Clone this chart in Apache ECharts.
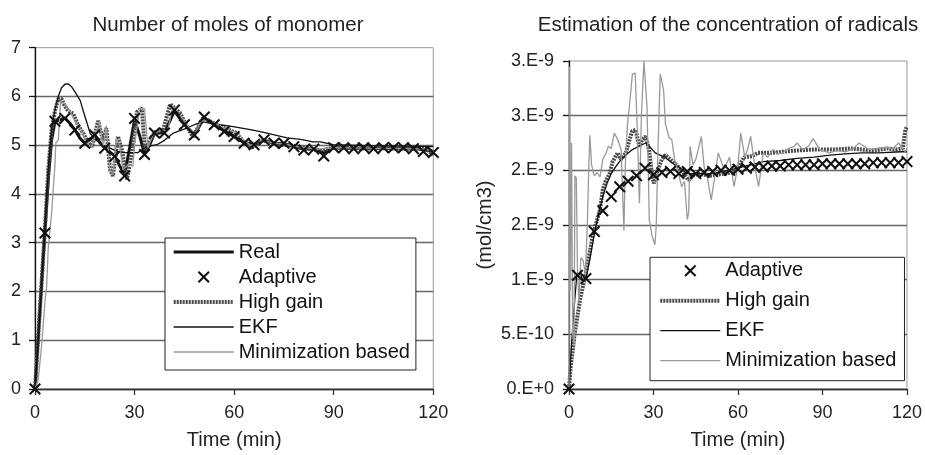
<!DOCTYPE html>
<html><head><meta charset="utf-8">
<script src="https://cdn.jsdelivr.net/npm/echarts@6/dist/echarts.min.js"></script>
<style>html,body{margin:0;padding:0;background:#fff}#c{width:925px;height:455px}</style>
</head><body><div id="c"></div>
<script>
// ---------- DATA ----------
const seriesNames = ['Real', 'Adaptive', 'High gain', 'EKF', 'Minimization based'];
const leftTitle = 'Number of moles of monomer';
const rightTitle = 'Estimation of the concentration of radicals';
const xName = 'Time (min)';
const rightYName = '(mol/cm3)';

const adaptiveTimes = [0,3,6,9,12,15,18,21,24,27,30,33,36,39,42,45,48,51,54,57,60,63,66,69,72,75,78,81,84,87,90,93,96,99,102,105,108,111,114,117,120];

// Left chart: number of moles of monomer
const leftAdaptive = [0,3.2,5.49,5.55,5.31,5.04,5.21,4.94,4.77,4.37,5.55,4.81,5.25,5.25,5.72,5.42,5.21,5.58,5.42,5.28,5.18,5.04,5.01,5.11,5.04,5.04,4.97,4.9,4.92,4.78,4.95,4.95,4.93,4.95,4.93,4.95,4.95,4.95,4.93,4.87,4.85];
const leftReal = [[0,0],[1,1.1],[2,2.2],[3,3.25],[4,4.3],[5,5.1],[6,5.48],[7.5,5.52],[9,5.56],[10.5,5.45],[12,5.32],[13.5,5.15],[15,5.04],[16.5,5.12],[18,5.2],[19.5,5.06],[21,4.95],[22.5,4.86],[24,4.78],[25.5,4.58],[27,4.4],[28.5,4.95],[30,5.52],[31.5,5.2],[33,4.82],[34.5,5.0],[36,5.24],[39,5.26],[42,5.7],[45,5.43],[48,5.22],[51,5.56],[54,5.42],[57,5.29],[60,5.18],[63,5.05],[66,5.02],[69,5.1],[72,5.04],[75,5.03],[78,4.97],[81,4.92],[84,4.92],[87,4.85],[90,4.95],[95,4.94],[100,4.94],[105,4.94],[110,4.93],[115,4.93],[120,4.87]];
const leftHighGain = [[0,0],[1,1.1],[2,2.2],[3,3.3],[4,4.5],[5,5.3],[6,5.7],[7,5.95],[8,5.95],[9,5.8],[10,5.7],[11.5,5.65],[13,5.4],[14.5,5.25],[16,5.05],[17.2,4.97],[18,5.2],[19,5.5],[20.5,5.1],[21.5,5.35],[22.6,4.5],[23.5,4.37],[25,5.18],[26.2,4.9],[27.7,4.3],[29.2,4.85],[30.7,5.68],[32.2,5.76],[33.1,4.9],[34.5,5.1],[36.2,5.27],[38.6,5.31],[40.7,5.84],[42.8,5.72],[43.7,5.66],[45.8,5.38],[47.6,5.17],[50.6,5.56],[53.6,5.46],[56.6,5.36],[60.8,5.25],[62.7,5.07],[65.4,4.95],[67.8,5.1],[70.8,5.07],[73.8,5.01],[76.8,5.0],[80.8,4.95],[83.8,4.91],[87,4.9],[90,4.95],[95,4.94],[100,4.93],[105,4.94],[110,4.93],[115,4.93],[118,4.92],[120,4.8]];
const leftEKF = [[0,0],[1,1.0],[2,2.1],[3,3.3],[4,4.5],[4.5,4.98],[5,5.35],[6,5.72],[7,6.0],[8,6.18],[9,6.25],[10,6.26],[11,6.2],[12,6.1],[13.6,5.92],[15,5.6],[16.6,5.25],[18,5.12],[19.6,5.05],[21,4.98],[22.6,4.94],[25,4.87],[27,4.85],[31,4.85],[33.7,4.97],[36.7,5.01],[39,5.1],[41.7,5.25],[43.7,5.3],[45.7,5.35],[48,5.42],[50.7,5.48],[53,5.45],[55.7,5.42],[59.7,5.38],[65.7,5.31],[69.9,5.25],[75.9,5.15],[80,5.12],[83.8,5.07],[86,5.07],[89.8,5.01],[95,5.0],[100,4.99],[110,4.98],[120,4.97]];
const leftMin = [[0,0],[1,0.2],[2,0.9],[3,1.8],[3.5,2.1],[4,2.9],[5,3.6],[6,4.6],[6.3,5.05],[7,5.1],[7.7,5.9],[9,5.85],[10.5,5.7],[12,5.5],[14,5.3],[15.5,5.05],[17,4.95],[18.5,5.3],[19.5,5.5],[20.5,4.95],[21.5,5.4],[22.5,4.5],[23.5,4.4],[24.5,5.15],[25.5,5.0],[26.5,4.5],[28,4.6],[28.6,4.57],[29.5,4.57],[30,5.0],[31.5,5.75],[33,5.75],[34,4.95],[35.5,5.2],[37.5,5.3],[40,5.3],[41.5,5.8],[43,5.7],[46,5.4],[48,5.2],[50,5.5],[53,5.5],[57,5.35],[61,5.25],[63,5.1],[65,5.0],[68,5.1],[72,5.05],[77,5.0],[81,4.95],[85,4.92],[90,4.95],[100,4.94],[110,4.93],[118,4.92],[120,4.9]];

// Right chart: concentration of radicals (mol/cm3)
const rightAdaptive = [0,1.04e-9,1.01e-9,1.44e-9,1.63e-9,1.76e-9,1.85e-9,1.9e-9,1.95e-9,2.02e-9,1.96e-9,1.98e-9,1.99e-9,1.97e-9,1.99e-9,1.97e-9,1.98e-9,1.99e-9,2.0e-9,2.0e-9,2.01e-9,2.02e-9,2.03e-9,2.03e-9,2.04e-9,2.04e-9,2.05e-9,2.05e-9,2.05e-9,2.05e-9,2.06e-9,2.06e-9,2.06e-9,2.06e-9,2.06e-9,2.06e-9,2.07e-9,2.07e-9,2.07e-9,2.07e-9,2.08e-9];
const rightHighGain = [[0,0],[0.5,0.18e-9],[2,0.5e-9],[4,0.83e-9],[5.5,1.0e-9],[6.7,1.16e-9],[8.4,1.4e-9],[10,1.55e-9],[11,1.64e-9],[12,1.82e-9],[13,1.9e-9],[14.4,1.97e-9],[15.5,2.08e-9],[17.3,2.16e-9],[18.4,2.1e-9],[20.2,2.16e-9],[21.5,2.28e-9],[22.5,2.36e-9],[23.7,2.37e-9],[24.9,2.22e-9],[26,2.28e-9],[27.2,2.31e-9],[28.4,2.19e-9],[29.3,2.0e-9],[30.1,1.88e-9],[31.9,2.03e-9],[33,2.1e-9],[34.2,2.14e-9],[36,2.1e-9],[38.9,2.03e-9],[40.5,1.98e-9],[42.4,1.91e-9],[44,1.95e-9],[45.9,1.97e-9],[50,1.95e-9],[55,1.97e-9],[58,1.98e-9],[60,2.03e-9],[62.2,2.12e-9],[65,2.13e-9],[67,2.16e-9],[72,2.16e-9],[80,2.18e-9],[87,2.19e-9],[94,2.19e-9],[100,2.2e-9],[108,2.18e-9],[113,2.2e-9],[116,2.19e-9],[118.5,2.2e-9],[119.4,2.37e-9],[120,2.4e-9]];
const rightEKF = [[0,0],[1,0.45e-9],[2,0.8e-9],[2.7,1.02e-9],[4,1.06e-9],[5,0.98e-9],[6.2,1.03e-9],[7.5,1.2e-9],[9,1.42e-9],[10.5,1.6e-9],[12,1.76e-9],[13.5,1.88e-9],[15,1.97e-9],[16.5,2.03e-9],[17.9,2.08e-9],[20.2,2.14e-9],[22.5,2.19e-9],[24.9,2.22e-9],[27.2,2.25e-9],[28.5,2.22e-9],[30.6,2.16e-9],[34,2.12e-9],[36.5,2.07e-9],[38.9,2.03e-9],[42,1.97e-9],[45.9,1.97e-9],[50,1.97e-9],[55,1.99e-9],[60,2.02e-9],[63,2.04e-9],[66,2.06e-9],[69,2.08e-9],[75,2.09e-9],[81,2.11e-9],[87,2.12e-9],[92.6,2.14e-9],[98,2.15e-9],[104,2.16e-9],[110,2.16e-9],[118,2.17e-9],[120,2.17e-9]];
const rightMin = [[0,0],[0.2,2.95e-9],[0.5,0.9e-9],[0.9,2.25e-9],[1.3,0.5e-9],[1.8,0.4e-9],[2.1,1.95e-9],[2.6,1.93e-9],[3,1.1e-9],[3.5,0.8e-9],[4.2,1.2e-9],[5,1.18e-9],[5.8,1.05e-9],[6.5,1.5e-9],[7,2.0e-9],[7.4,2.32e-9],[8,2.05e-9],[9,1.95e-9],[10,1.98e-9],[11,1.94e-9],[12,2.1e-9],[13,2.15e-9],[14,2.22e-9],[15,2.2e-9],[16.1,2.34e-9],[17.3,2.28e-9],[18.5,2.19e-9],[19.5,1.45e-9],[20,2.05e-9],[20.8,2.43e-9],[21.5,2.6e-9],[22.5,2.88e-9],[23.5,2.89e-9],[24.3,2.34e-9],[25,1.7e-9],[25.7,2.5e-9],[26.6,3.0e-9],[27.7,2.58e-9],[28.5,1.55e-9],[29.5,1.4e-9],[30.5,1.32e-9],[31,1.5e-9],[31.6,2.2e-9],[32.4,2.88e-9],[33.6,2.73e-9],[34.2,2.43e-9],[35.5,2.3e-9],[36.5,2.28e-9],[37.5,2.1e-9],[38.9,1.97e-9],[40,1.85e-9],[41,1.9e-9],[42,1.55e-9],[42.5,1.62e-9],[43,2.22e-9],[44,2.05e-9],[45,2.1e-9],[46,2.2e-9],[47,2.31e-9],[48,2.03e-9],[49,1.95e-9],[50.5,1.73e-9],[51.5,1.9e-9],[53,2.16e-9],[55,2.01e-9],[57,2.12e-9],[58.6,1.85e-9],[60,2.05e-9],[61,2.34e-9],[62.4,2.12e-9],[63.5,2.2e-9],[64.5,2.31e-9],[66,2.03e-9],[67.3,1.85e-9],[69,2.16e-9],[70.5,2.12e-9],[72.5,2.19e-9],[74,2.15e-9],[76,2.16e-9],[78,2.2e-9],[80,2.22e-9],[81,2.25e-9],[83,2.19e-9],[85,2.22e-9],[86.7,2.29e-9],[89,2.19e-9],[92.5,2.16e-9],[95,2.18e-9],[98.4,2.17e-9],[101,2.2e-9],[103,2.25e-9],[106.5,2.19e-9],[109,2.2e-9],[112.4,2.21e-9],[115,2.2e-9],[117,2.25e-9],[119.4,2.17e-9],[120,2.2e-9]];

// ---------- CHART ----------
const FONT = '"Liberation Sans", Arial, sans-serif';
const XPATH = 'path://M0,1.2L1.2,0L5,3.8L8.8,0L10,1.2L6.2,5L10,8.8L8.8,10L5,6.2L1.2,10L0,8.8L3.8,5Z';
const HG_COLOR = '#4a4a4a';
const HG_DASH = [2, 1];
const NO_SYMBOL = { color: 'transparent', borderWidth: 0, borderColor: 'transparent' };

function sciLabel(v) {
  if (v === 0) return '0.E+0';
  let e = Math.floor(Math.log10(Math.abs(v)));
  let m = Math.round(Number((v / Math.pow(10, e)).toFixed(6)));
  if (m >= 10) { m = 1; e += 1; }
  return m + '.E' + (e < 0 ? '-' : '+') + Math.abs(e);
}

const axisLabelStyle = { fontFamily: FONT, fontSize: 18, color: '#222' };

function xAxisCfg(gi) {
  return {
    type: 'value', gridIndex: gi, min: 0, max: 120, interval: 30,
    name: xName, nameLocation: 'middle', nameGap: 41,
    nameTextStyle: { fontFamily: FONT, fontSize: 20, color: '#222' },
    axisLine: { show: true, onZero: false, lineStyle: { color: '#333', width: 1.3 } },
    axisTick: { show: true, length: 6, lineStyle: { color: '#333', width: 1.3 } },
    axisLabel: Object.assign({ margin: 15 }, axisLabelStyle),
    splitLine: { show: false }
  };
}

const adaptivePairs = (vals) => adaptiveTimes.map((t, i) => [t, vals[i]]);

const legendCommon = {
  orient: 'vertical', itemWidth: 60, itemHeight: 12,
  backgroundColor: '#fff', borderColor: '#222', borderWidth: 1, borderRadius: 0,
  textStyle: { fontFamily: FONT, fontSize: 20, color: '#111', lineHeight: 20 },
  selectedMode: false
};
const legendItems = {
  'Real': { name: 'Real', lineStyle: { width: 3, color: '#111' }, itemStyle: NO_SYMBOL },
  'Adaptive': { name: 'Adaptive', icon: XPATH, itemStyle: { color: '#111' } },
  'High gain': { name: 'High gain', lineStyle: { width: 4, color: HG_COLOR, type: HG_DASH }, itemStyle: NO_SYMBOL },
  'EKF': { name: 'EKF', lineStyle: { width: 1.3, color: '#111' }, itemStyle: NO_SYMBOL },
  'Minimization based': { name: 'Minimization based', lineStyle: { width: 1.3, color: '#999' }, itemStyle: NO_SYMBOL }
};

const option = {
  animation: false,
  backgroundColor: '#fff',
  graphic: [
    { type: 'text', x: 228, y: 25, style: { text: leftTitle, font: '20.5px ' + FONT, fill: '#222', textAlign: 'center', textVerticalAlign: 'middle' } },
    { type: 'text', x: 728, y: 25, style: { text: rightTitle, font: '20.5px ' + FONT, fill: '#222', textAlign: 'center', textVerticalAlign: 'middle' } }
  ],
  grid: [
    { left: 35, top: 47.7, right: 491.7, bottom: 63.3, show: true, borderColor: '#999', borderWidth: 1, backgroundColor: 'transparent' },
    { left: 569, top: 61, right: 13.3, bottom: 63.3, show: true, borderColor: '#999', borderWidth: 1, backgroundColor: 'transparent' }
  ],
  xAxis: [xAxisCfg(0), xAxisCfg(1)],
  yAxis: [
    {
      type: 'value', gridIndex: 0, min: 0, max: 7, interval: 1,
      axisLine: { show: true, lineStyle: { color: '#111', width: 1.3 } },
      axisTick: { show: true, length: 6, lineStyle: { color: '#111', width: 1.3 } },
      axisLabel: Object.assign({ margin: 14 }, axisLabelStyle),
      splitLine: { show: true, showMaxLine: false, lineStyle: { color: '#666', width: 1.3 } }
    },
    {
      type: 'value', gridIndex: 1, min: 0, max: 3e-9, interval: 5e-10,
      name: rightYName, nameLocation: 'middle', nameGap: 74,
      nameTextStyle: { fontFamily: FONT, fontSize: 20, color: '#222' },
      axisLine: { show: true, lineStyle: { color: '#111', width: 1.3 } },
      axisTick: { show: true, length: 6, lineStyle: { color: '#111', width: 1.3 } },
      axisLabel: Object.assign({ margin: 15, formatter: sciLabel }, axisLabelStyle),
      splitLine: { show: true, showMaxLine: false, lineStyle: { color: '#666', width: 1.3 } }
    }
  ],
  legend: [
    Object.assign({}, legendCommon, {
      left: 165, top: 238, padding: [4, 6, 8, 6.7], itemGap: 5,
      data: seriesNames.map(n => legendItems[n])
    }),
    Object.assign({}, legendCommon, {
      left: 650, top: 257.3, padding: [3.4, 8, 10, 8.3], itemGap: 10,
      data: seriesNames.slice(1).map(n => legendItems[n])
    })
  ],
  series: [
    // left
    { name: 'Real', type: 'line', xAxisIndex: 0, yAxisIndex: 0, data: leftReal, symbol: 'none', z: 2,
      lineStyle: { color: '#111', width: 3 }, itemStyle: { color: '#111' } },
    { name: 'High gain', type: 'line', xAxisIndex: 0, yAxisIndex: 0, data: leftHighGain, symbol: 'none', z: 3,
      lineStyle: { color: HG_COLOR, width: 4, type: HG_DASH }, itemStyle: { color: HG_COLOR } },
    { name: 'EKF', type: 'line', xAxisIndex: 0, yAxisIndex: 0, data: leftEKF, symbol: 'none', z: 4,
      lineStyle: { color: '#111', width: 1.3 }, itemStyle: { color: '#111' } },
    { name: 'Minimization based', type: 'line', xAxisIndex: 0, yAxisIndex: 0, data: leftMin, symbol: 'none', z: 5,
      lineStyle: { color: '#999', width: 1.3 }, itemStyle: { color: '#999' } },
    { name: 'Adaptive', type: 'scatter', xAxisIndex: 0, yAxisIndex: 0, data: adaptivePairs(leftAdaptive), symbol: XPATH, symbolSize: 12, z: 6,
      itemStyle: { color: '#111', opacity: 1 } },
    // right
    { name: 'High gain', type: 'line', xAxisIndex: 1, yAxisIndex: 1, data: rightHighGain, symbol: 'none', z: 3,
      lineStyle: { color: HG_COLOR, width: 4, type: HG_DASH }, itemStyle: { color: HG_COLOR } },
    { name: 'EKF', type: 'line', xAxisIndex: 1, yAxisIndex: 1, data: rightEKF, symbol: 'none', z: 4,
      lineStyle: { color: '#111', width: 1.3 }, itemStyle: { color: '#111' } },
    { name: 'Minimization based', type: 'line', xAxisIndex: 1, yAxisIndex: 1, data: rightMin, symbol: 'none', z: 5,
      lineStyle: { color: '#999', width: 1.3 }, itemStyle: { color: '#999' } },
    { name: 'Adaptive', type: 'scatter', xAxisIndex: 1, yAxisIndex: 1, data: adaptivePairs(rightAdaptive), symbol: XPATH, symbolSize: 12, z: 6,
      itemStyle: { color: '#111', opacity: 1 } }
  ]
};

const chart = echarts.init(document.getElementById('c'), null, { renderer: 'canvas' });
chart.setOption(option);
</script>
</body></html>
